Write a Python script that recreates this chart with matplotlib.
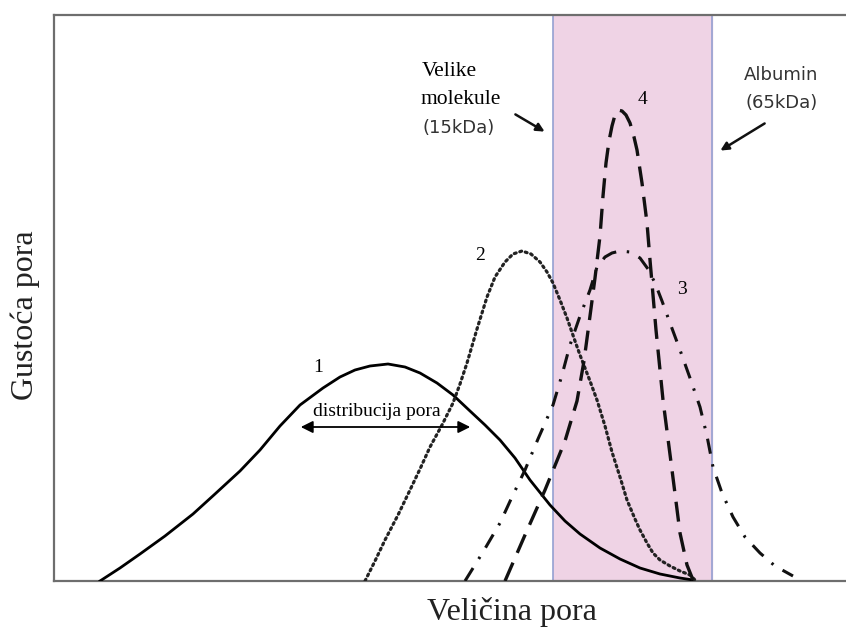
import matplotlib
matplotlib.use('Agg')
import matplotlib.pyplot as plt

# krivulje: velicina pora (x) i gustoca pora (y), ocitano sa slike
x1 = [100, 120, 140, 165, 193, 215, 240, 260, 280, 300, 323, 340, 355, 370, 388, 405, 420,
      437, 453, 470, 485, 500, 515, 530, 550, 565, 580, 600, 620, 640, 660, 680, 693]
y1 = [0, 13, 27, 45, 67, 87, 110, 131, 155, 176, 193, 204, 211, 215, 217, 214, 208,
      198, 186, 170, 156, 141, 123, 101, 76, 60, 47, 33, 22, 13, 7, 3, 1]

x2 = [365, 375, 385, 398, 410, 420, 430, 442, 453, 460, 467, 477, 487, 495, 505, 513, 522,
      531, 540, 547, 553, 560, 567, 575, 580, 590, 597, 605, 612, 620, 627, 635, 640, 647,
      653, 660, 670, 680, 690, 695]
y2 = [0, 20, 41, 66, 91, 112, 134, 156, 178, 197, 218, 252, 284, 304, 319, 327, 330,
      327, 319, 309, 298, 281, 263, 240, 226, 200, 181, 155, 129, 104, 81, 62, 51, 38,
      28, 21, 15, 10, 6, 1]

x3 = [465, 483, 500, 512, 525, 538, 553, 562, 570, 580, 590, 597, 605, 612, 620, 630, 640,
      648, 655, 662, 670, 680, 690, 700, 707, 713, 722, 733, 745, 760, 775, 793]
y3 = [0, 29, 58, 84, 111, 142, 176, 206, 236, 265, 291, 314, 324, 328, 330, 329, 323,
      312, 298, 280, 258, 231, 203, 174, 145, 114, 88, 64, 44, 28, 15, 5]

x4 = [505, 525, 545, 565, 577, 584, 590, 595, 600, 603, 606, 609, 612, 615, 618, 622, 626,
      630, 634, 637, 642, 647, 650, 656, 663, 672, 680, 687, 693]
y4 = [0, 46, 91, 140, 180, 220, 265, 303, 345, 385, 418, 440, 455, 466, 471, 470, 466,
      458, 444, 431, 398, 358, 321, 251, 181, 111, 48, 16, 1]

band = (553, 712)  # podrucje izmedju 15kDa i 65kDa

serif = 'Liberation Serif'
sans = 'DejaVu Sans'

fig = plt.figure(figsize=(8.46, 6.30), dpi=100)
ax = fig.add_axes([54 / 846, 49 / 630, (860 - 54) / 846, 566 / 630])
ax.set_xlim(54, 860)
ax.set_ylim(0, 566)
ax.set_xticks([])
ax.set_yticks([])
for s in ax.spines.values():
    s.set_color('#6e6e6e')
    s.set_linewidth(1.6)

# ruzicasto podrucje
ax.axvspan(band[0], band[1], color='#efd3e5', zorder=0)
for b in band:
    ax.axvline(b, color='#8c9bd0', lw=1.1, zorder=1)

ax.plot(x1, y1, color='black', lw=2.0, solid_joinstyle='round', zorder=3)
ax.plot(x2, y2, color='#222222', lw=2.3, linestyle=(0, (0.6, 1.2)), dash_capstyle='round', zorder=3)
ax.plot(x3, y3, color='#111111', lw=2.2, linestyle=(0, (5, 3.5, 0.8, 3.5)), zorder=3)
ax.plot(x4, y4, color='#111111', lw=2.4, linestyle=(0, (6, 3.2)), zorder=3)

# oznake krivulja
ax.text(318, 214, '1', family=serif, fontsize=14, ha='center', va='center')
ax.text(480, 325, '2', family=serif, fontsize=14, ha='center', va='center')
ax.text(682, 291, '3', family=serif, fontsize=14, ha='center', va='center')
ax.text(642, 481, '4', family=serif, fontsize=14, ha='center', va='center')

# distribucija pora
ax.text(377, 169, 'distribucija pora', family=serif, fontsize=14, ha='center', va='center')
ax.annotate('', xy=(298, 154), xytext=(473, 154),
            arrowprops=dict(arrowstyle='<|-|>', color='black', lw=1.3, mutation_scale=18))

# velike molekule
ax.text(449, 509, 'Velike', family=serif, fontsize=15.5, ha='center', va='center')
ax.text(461, 481, 'molekule', family=serif, fontsize=15.5, ha='center', va='center')
ax.text(459, 453, '(15kDa)', family=sans, fontsize=13, ha='center', va='center', color='#333333')
ax.annotate('', xy=(547, 448), xytext=(513, 468),
            arrowprops=dict(arrowstyle='-|>', color='#111111', lw=1.8, mutation_scale=12))

# albumin
ax.text(781, 506, 'Albumin', family=sans, fontsize=13, ha='center', va='center', color='#333333')
ax.text(782, 478, '(65kDa)', family=sans, fontsize=13, ha='center', va='center', color='#333333')
ax.annotate('', xy=(718, 429), xytext=(767, 459),
            arrowprops=dict(arrowstyle='-|>', color='#111111', lw=1.8, mutation_scale=12))

fig.text(512 / 846, 1 - 612 / 630, 'Veličina pora', family=serif, fontsize=23,
         ha='center', va='center', color='#222222')
fig.text(25 / 846, 1 - 315 / 630, 'Gustoća pora', family=serif, fontsize=23,
         ha='center', va='center', rotation=90, color='#222222')

fig.savefig('out.png', dpi=100)
